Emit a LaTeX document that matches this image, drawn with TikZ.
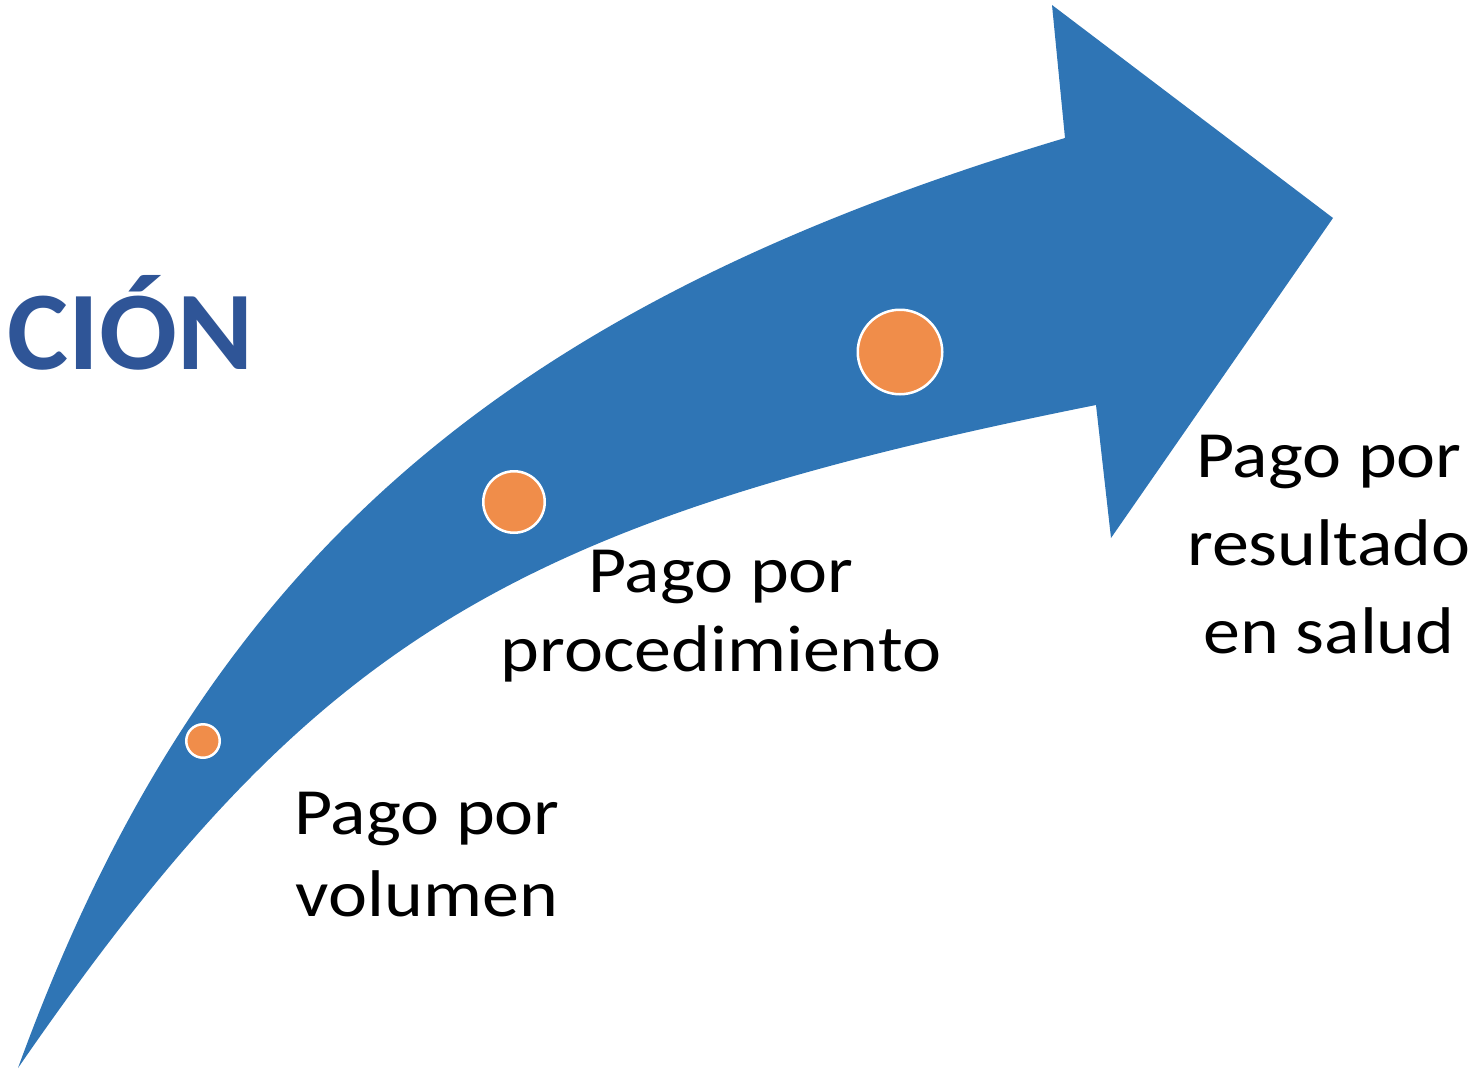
\documentclass[tikz,border=0pt]{standalone}
\usepackage{fontspec}
\setmainfont{Carlito}
\definecolor{arrowblue}{RGB}{47,117,181}
\definecolor{dotorange}{RGB}{240,141,74}
\definecolor{titleblue}{RGB}{47,85,151}
\begin{document}
\begin{tikzpicture}[x=1pt,y=-1pt,
  dot/.style={circle, fill=dotorange, draw=white, line width=2.5pt, inner sep=0pt},
  label/.style={anchor=north, inner sep=0pt, align=center, xscale=1.12, text=black}]
\useasboundingbox (0,0) rectangle (1483,1071);
% curved arrow
\fill[arrowblue] (18,1068) .. controls (199,570) and (492,309) .. (1065,138)
  -- (1052,5) -- (1333,218) -- (1111,538) -- (1096,405)
  .. controls (506,523) and (312,642) .. (18,1068) -- cycle;
% dots
\node[dot, minimum size=33.5pt] (d1) at (203,741) {};
\node[dot, minimum size=61.5pt] (d2) at (514,502) {};
\node[dot, minimum size=84.5pt] (d3) at (900,352) {};
% title fragment
\node[anchor=base west, inner sep=0pt, xscale=1.03, text=titleblue, font=\fontsize{112}{130}\selectfont\bfseries] (t) at (7,369) {CIÓN};
% labels
\node[label, font=\fontsize{66}{82}\selectfont] (l1) at (427,792) {Pago por\\volumen};
\node[label, font=\fontsize{66}{79}\selectfont] (l2) at (721,550) {Pago por\\procedimiento};
\node[label, font=\fontsize{66}{88}\selectfont] (l3) at (1329,435) {Pago por\\resultado\\en salud};
\end{tikzpicture}
\end{document}
